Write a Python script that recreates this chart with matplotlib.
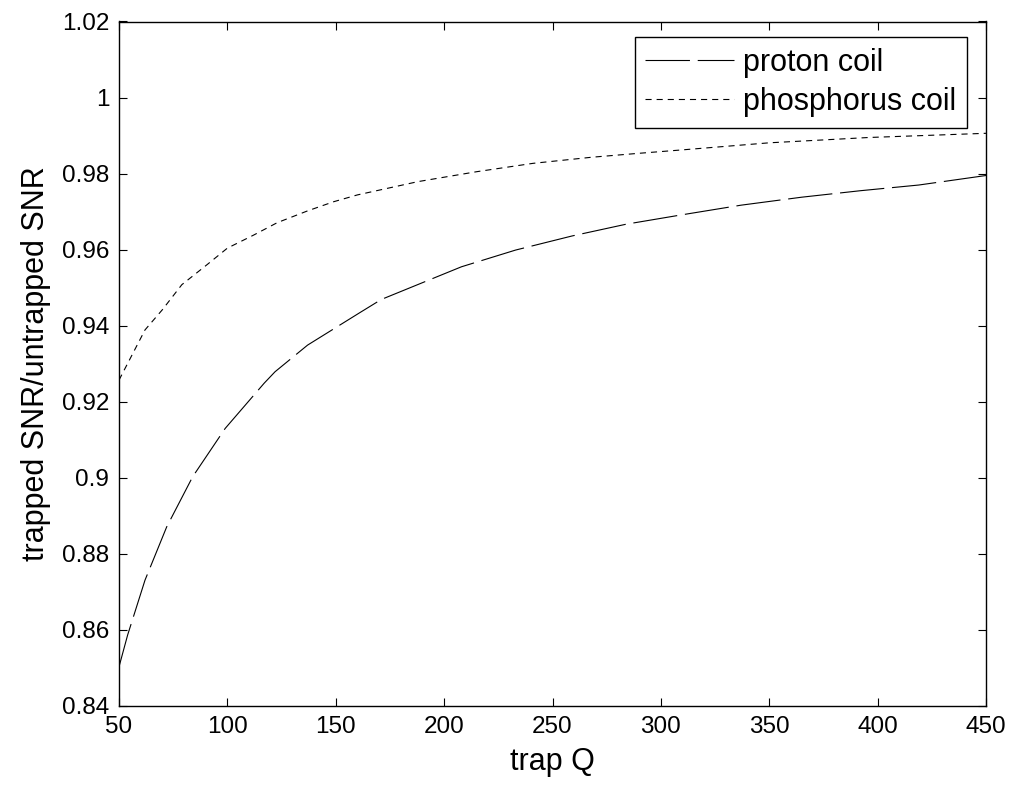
import numpy as np
import matplotlib; matplotlib.use("Agg"); import matplotlib.pyplot as plt
from matplotlib.ticker import FixedLocator, FixedFormatter

# values
q_proton = [50, 54, 62, 72, 84, 99, 117, 122, 137, 161, 171, 208, 233, 259, 284, 309, 337, 365, 392, 419, 450]
snr_proton = [0.8503, 0.8587, 0.8731, 0.8871, 0.9003, 0.9130, 0.9249, 0.9279, 0.9349, 0.9434, 0.9469,
              0.9555, 0.9599, 0.9636, 0.9667, 0.9691, 0.9717, 0.9738, 0.9755, 0.9770, 0.9795]
q_phos = [50, 52, 62, 70, 79, 90.5, 100, 112, 123, 137, 149, 160, 188, 215, 241, 268, 289, 309, 350, 396, 450]
snr_phos = [0.9257, 0.9279, 0.9389, 0.9442, 0.9508, 0.9560, 0.9604, 0.9638, 0.9671, 0.9702, 0.9726,
            0.9744, 0.9779, 0.9805, 0.9827, 0.9843, 0.9853, 0.9862, 0.9881, 0.9895, 0.9906]
xticks = [50, 100, 150, 200, 250, 300, 350, 400, 450]
yticks = [0.84, 0.86, 0.88, 0.9, 0.92, 0.94, 0.96, 0.98, 1.0, 1.02]
ytick_labels = ["0.84", "0.86", "0.88", "0.9", "0.92", "0.94", "0.96", "0.98", "1", "1.02"]

plt.rcParams.update({"font.family": ["Liberation Sans", "DejaVu Sans"]})
fig = plt.figure(figsize=(10.19, 7.89), dpi=100)
ax = fig.add_axes([119/1019, 1-706/789, 867/1019, 684.5/789])
# dashes scale with lw (0.8): proton ~45px on / 8px off, phosphorus ~6px on / 5px off
ax.plot(q_proton, snr_proton, color="k", lw=0.8, dashes=(40, 7), label="proton coil")
ax.plot(q_phos, snr_phos, color="k", lw=0.8, dashes=(5.5, 4.5), label="phosphorus coil")
ax.set_xlim(50, 450); ax.set_ylim(0.84, 1.02)
ax.xaxis.set_major_locator(FixedLocator(xticks))
ax.yaxis.set_major_locator(FixedLocator(yticks))
ax.yaxis.set_major_formatter(FixedFormatter(ytick_labels))
ax.tick_params(direction="in", length=6, width=0.8, top=True, right=True, labelsize=17.5, pad=7)
for s in ax.spines.values(): s.set_linewidth(1.0)
ax.set_xlabel("trap Q", fontsize=22, labelpad=7)
ax.set_ylabel("trapped SNR/untrapped SNR", fontsize=22, labelpad=8)
leg = ax.legend(loc="upper right", bbox_to_anchor=(0.978, 0.977), borderaxespad=0, fontsize=22,
                handlelength=2.9, handletextpad=0.3, borderpad=0.35, labelspacing=0.3,
                frameon=True, fancybox=False, edgecolor="k", framealpha=1)
leg.get_frame().set_linewidth(1.0)
fig.savefig("out.png", dpi=100, facecolor="white")
